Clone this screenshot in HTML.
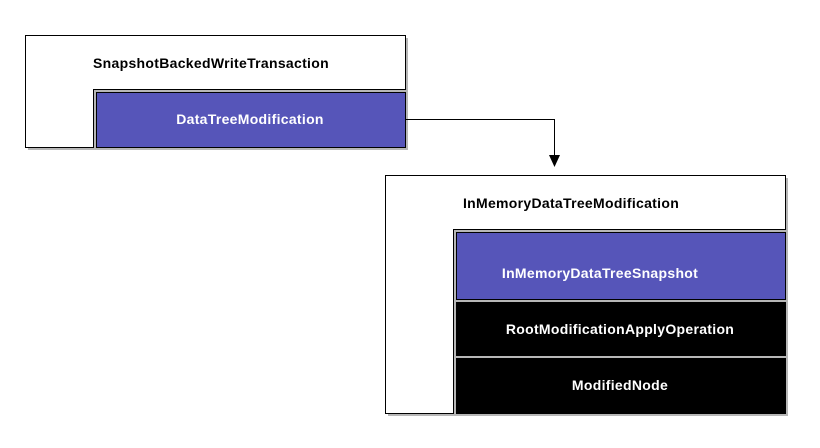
<!DOCTYPE html>
<html><head><style>body{margin:0;background:#fff}svg{display:block}text{font-family:"Liberation Sans",sans-serif;font-weight:bold;font-size:14px;letter-spacing:0.3px}</style></head>
<body>
<svg width="820" height="448" xmlns="http://www.w3.org/2000/svg">
<g fill="#999" opacity="0.7">
<path d="M28 38 H408 V150 H28 Z"/>
<path d="M388 178 H788 V416 H388 Z"/>
</g>
<path d="M25.5 35.5 H405.5 V89.5 H93.5 V147.5 H25.5 Z" fill="#fff" stroke="#000"/>
<rect x="96.5" y="92.5" width="309" height="55" fill="#5655b9" stroke="#000"/>
<text x="211" y="68" text-anchor="middle">SnapshotBackedWriteTransaction</text>
<text x="250" y="124" text-anchor="middle" fill="#fff">DataTreeModification</text>
<path d="M405 119.5 H554.5 V156" fill="none" stroke="#000"/>
<path d="M549 155 L560 155 L554.5 167 Z" fill="#000"/>
<path d="M385.5 175.5 H785.5 V229.5 H453.5 V413.5 H385.5 Z" fill="#fff" stroke="#000"/>
<rect x="456.5" y="232.5" width="329" height="67" fill="#5655b9" stroke="#000"/>
<rect x="456.5" y="302.5" width="329" height="53" fill="#000" stroke="#000"/>
<rect x="456.5" y="358.5" width="329" height="55" fill="#000" stroke="#000"/>
<text x="571" y="208" text-anchor="middle">InMemoryDataTreeModification</text>
<text x="600" y="278" text-anchor="middle" fill="#fff">InMemoryDataTreeSnapshot</text>
<text x="620" y="334" text-anchor="middle" fill="#fff">RootModificationApplyOperation</text>
<text x="620" y="390" text-anchor="middle" fill="#fff">ModifiedNode</text>
</svg>
</body></html>
